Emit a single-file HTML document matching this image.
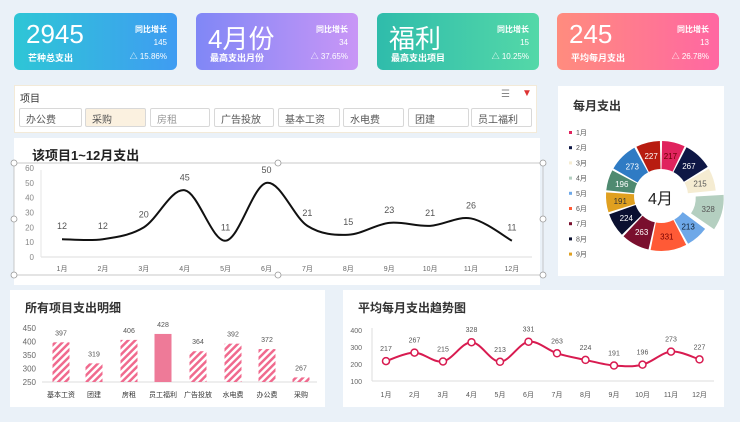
<!DOCTYPE html><html><head><meta charset="utf-8"><style>
*{margin:0;padding:0;box-sizing:border-box}
body{width:740px;height:422px;background:#eaf1f8;font-family:"Liberation Sans","Noto Sans CJK SC",sans-serif;position:relative;overflow:hidden}
.a{position:absolute}
.card{position:absolute;top:13px;height:57px;border-radius:6px;color:#fff}
.big{position:absolute;left:12px;top:6px;font-size:26px}
.sub{position:absolute;left:14px;top:38px;font-size:9px;font-weight:bold}
.r1{position:absolute;right:10px;top:11px;font-size:8px;font-weight:bold}
.r2{position:absolute;right:10px;top:25px;font-size:8px}
.r3{position:absolute;right:10px;top:38px;font-size:8px}
.panel{position:absolute;background:#fff}
.btn{position:absolute;top:108px;height:19px;border:1px solid #d8d8d8;border-radius:2px;font-size:10px;color:#555;padding:2px 0 0 6px;background:#fff}
svg text{font-family:"Liberation Sans","Noto Sans CJK SC",sans-serif}
</style></head><body>
<div class="card" style="left:14px;width:163px;background:linear-gradient(90deg,#2ec6d6,#3f9cf2)"><div class="big">2945</div><div class="sub">芒种总支出</div><div class="r1">同比增长</div><div class="r2">145</div><div class="r3">△ 15.86%</div></div>
<div class="card" style="left:196px;width:162px;background:linear-gradient(90deg,#8087f6,#c996f6)"><div class="big">4月份</div><div class="sub">最高支出月份</div><div class="r1">同比增长</div><div class="r2">34</div><div class="r3">△ 37.65%</div></div>
<div class="card" style="left:377px;width:162px;background:linear-gradient(90deg,#2fbcab,#54d8a8)"><div class="big">福利</div><div class="sub">最高支出项目</div><div class="r1">同比增长</div><div class="r2">15</div><div class="r3">△ 10.25%</div></div>
<div class="card" style="left:557px;width:162px;background:linear-gradient(90deg,#ff8c7e,#ff67a2)"><div class="big">245</div><div class="sub">平均每月支出</div><div class="r1">同比增长</div><div class="r2">13</div><div class="r3">△ 26.78%</div></div>

<div class="panel" style="left:14px;top:85px;width:523px;height:48px;border:1px solid #f3ead8"></div>
<div class="a" style="left:20px;top:90px;font-size:10px;color:#333">项目</div>
<div class="a" style="left:501px;top:89px;font-size:10px;color:#888">☰</div>
<div class="a" style="left:522px;top:88px;font-size:10px;color:#d33">▼</div>
<div class="btn" style="left:19px;width:63px">办公费</div>
<div class="btn" style="left:85px;width:61px;background:#fbf1e0">采购</div>
<div class="btn" style="left:150px;width:60px;color:#999">房租</div>
<div class="btn" style="left:214px;width:60px">广告投放</div>
<div class="btn" style="left:278px;width:62px">基本工资</div>
<div class="btn" style="left:343px;width:61px">水电费</div>
<div class="btn" style="left:408px;width:61px">团建</div>
<div class="btn" style="left:471px;width:61px">员工福利</div>

<div class="panel" style="left:14px;top:138px;width:526px;height:147px"></div>
<div class="panel" style="left:558px;top:86px;width:166px;height:190px"></div>
<div class="panel" style="left:10px;top:290px;width:315px;height:117px"></div>
<div class="panel" style="left:343px;top:290px;width:381px;height:117px"></div>

<svg class="a" style="left:0;top:0" width="740" height="422" id="s">
<text x="32" y="160" font-size="13" font-weight="bold" fill="#222">该项目1~12月支出</text>
<rect x="14" y="163" width="529" height="112" fill="none" stroke="#bbb" stroke-width="0.8"/>
<g fill="#fff" stroke="#999" stroke-width="0.8">
<circle cx="14" cy="163" r="3"/><circle cx="278" cy="163" r="3"/><circle cx="543" cy="163" r="3"/>
<circle cx="14" cy="219" r="3"/><circle cx="543" cy="219" r="3"/>
<circle cx="14" cy="275" r="3"/><circle cx="278" cy="275" r="3"/><circle cx="543" cy="275" r="3"/></g>
<line x1="41" y1="257" x2="532" y2="257" stroke="#ddd"/>
<line x1="41" y1="170" x2="41" y2="257" stroke="#e5e5e5"/>
<text x="573" y="110" font-size="12" font-weight="bold" fill="#333">每月支出</text>
<text x="25" y="312" font-size="12" font-weight="bold" fill="#333">所有项目支出明细</text>
<text x="358" y="312" font-size="12" font-weight="bold" fill="#333">平均每月支出趋势图</text>
<line x1="42" y1="382" x2="317" y2="382" stroke="#ddd"/>
<line x1="372" y1="381" x2="714" y2="381" stroke="#ddd"/>
<line x1="372" y1="328" x2="372" y2="381" stroke="#ddd"/>
<defs><pattern id="h" width="5" height="5" patternUnits="userSpaceOnUse" patternTransform="rotate(45)"><rect width="2.5" height="5" fill="#f06a8e"/></pattern></defs>
</svg>
<div class="a" style="left:648px;top:185px;font-size:16px;color:#222">4月</div>
<script>
var s=document.getElementById('s'),NS='http://www.w3.org/2000/svg';
function el(t,a,tx){var e=document.createElementNS(NS,t);for(var k in a)e.setAttribute(k,a[k]);if(tx!==undefined)e.textContent=tx;s.appendChild(e);return e}
function smooth(p){var d='M'+p[0][0]+','+p[0][1];for(var i=0;i<p.length-1;i++){var p0=p[i-1]||p[i],p1=p[i],p2=p[i+1],p3=p[i+2]||p2;var t=6;d+=' C'+(p1[0]+(p2[0]-p0[0])/t)+','+(p1[1]+(p2[1]-p0[1])/t)+' '+(p2[0]-(p3[0]-p1[0])/t)+','+(p2[1]-(p3[1]-p1[1])/t)+' '+p2[0]+','+p2[1]}return d}
var v=[12,12,20,45,11,50,21,15,23,21,26,11],pts=[];
for(var i=0;i<=6;i++)el('text',{x:34,y:257-i*10*1.483+3,'font-size':8,fill:'#888','text-anchor':'end'},i*10);
v.forEach(function(y,i){var x=62+i*40.9,yy=257-y*1.483;pts.push([x,yy]);el('text',{x:x,y:yy-10,'font-size':9,fill:'#555','text-anchor':'middle'},y);el('text',{x:x,y:271,'font-size':7,fill:'#666','text-anchor':'middle'},(i+1)+'月')});
el('path',{d:smooth(pts),fill:'none',stroke:'#111','stroke-width':2});
var dv=[217,267,215,328,213,331,263,224,191,196,273,227],tot=2945,cols=['#e0245e','#0e1745','#f5ecd2','#b4cfc0','#6ea8e8','#ff5a36','#7a0f2e','#0b1030','#e0a020','#4f8a70','#2f7bc4','#b81c10'],tc=['#600','#fff','#555','#555','#123','#700','#fff','#fff','#333','#fff','#fff','#fff'];
var cx=661,cy=196,R=55,r=27,a=0;
dv.forEach(function(val,i){var a0=a,a1=a+val/tot*2*Math.PI;a=a1;var ox=0,oy=0,m=(a0+a1)/2;if(i==3){ox=Math.sin(m)*8;oy=-Math.cos(m)*8}
var g=0.02;function P(rr,an){return (cx+ox+rr*Math.sin(an)).toFixed(1)+','+(cy+oy-rr*Math.cos(an)).toFixed(1)}
el('path',{d:'M'+P(r,a0+g)+' L'+P(R,a0+g)+' A'+R+','+R+' 0 0 1 '+P(R,a1-g)+' L'+P(r,a1-g)+' A'+r+','+r+' 0 0 0 '+P(r,a0+g)+'Z',fill:cols[i]});
el('text',{x:cx+ox+41*Math.sin(m),y:cy+oy-41*Math.cos(m)+3,'font-size':8,fill:tc[i],'text-anchor':'middle'},val)});
for(var i=0;i<9;i++){el('rect',{x:569,y:131+i*15.2,width:3,height:3,fill:cols[i]});el('text',{x:576,y:135+i*15.2,'font-size':7,fill:'#555'},(i+1)+'月')}
var bn=['基本工资','团建','房租','员工福利','广告投放','水电费','办公费','采购'],bv=[397,319,406,428,364,392,372,267],bx=[61,94,129,163,198,233,267,301];
[450,400,350,300,250].forEach(function(t){el('text',{x:36,y:382-(t-250)*0.27+3,'font-size':8,fill:'#666','text-anchor':'end'},t)});
bv.forEach(function(val,i){var y=382-(val-250)*0.27;el('rect',{x:bx[i]-8.5,y:y,width:17,height:382-y,fill:i==3?'#ee7a98':'url(#h)'});el('text',{x:bx[i],y:y-7,'font-size':7,fill:'#555','text-anchor':'middle'},val);el('text',{x:bx[i],y:397,'font-size':7,fill:'#333','text-anchor':'middle'},bn[i])});
[400,300,200,100].forEach(function(t){el('text',{x:362,y:381-(t-100)*0.17+3,'font-size':7,fill:'#666','text-anchor':'end'},t)});
var tp=[];dv.forEach(function(val,i){var x=386+i*28.5,y=381-(val-100)*0.17;tp.push([x,y]);el('text',{x:x,y:y-10,'font-size':7,fill:'#555','text-anchor':'middle'},val);el('text',{x:x,y:397,'font-size':7,fill:'#555','text-anchor':'middle'},(i+1)+'月')});
el('path',{d:smooth(tp),fill:'none',stroke:'#d81b50','stroke-width':2});
tp.forEach(function(p){el('circle',{cx:p[0],cy:p[1],r:3.5,fill:'#fff',stroke:'#d81b50','stroke-width':1.5})});
</script>
</body></html>
